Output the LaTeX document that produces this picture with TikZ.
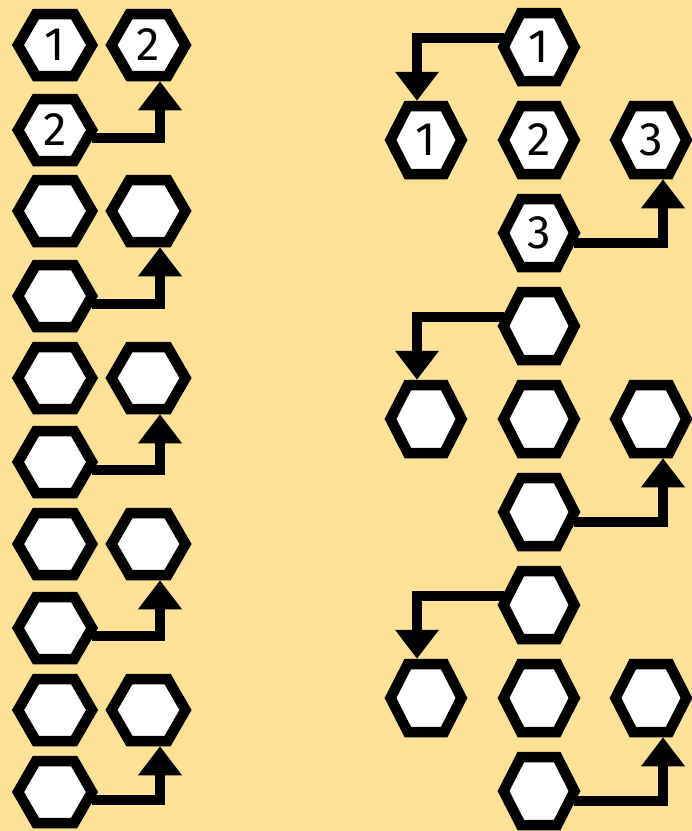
\documentclass[tikz,border=0pt]{standalone}
\usepackage{fontspec}
\setmainfont{Fira Sans}
\usetikzlibrary{shapes.symbols,arrows.meta,calc}
\definecolor{bg}{HTML}{FCE297}
\begin{document}
\begin{tikzpicture}[x=1pt,y=-1pt,
  hexL/.style={shape=signal, signal to=east and west, signal pointer angle=120,
    minimum width=74pt, minimum height=62pt, inner sep=0pt, draw=black, fill=white,
    line width=10.5pt, line join=miter, font=\fontsize{47}{47}\selectfont},
  hexR/.style={hexL, signal pointer angle=126, minimum width=71pt, minimum height=68pt},
  conn/.style={draw=black, line width=9.5pt, line join=miter, -{Triangle[width=42pt,length=29pt]}}]
\fill[bg] (0,0) rectangle (692,831);
\useasboundingbox (0,0) rectangle (692,831);
% left column
\node[hexL] (a1) at (55,45) {1};
\node[hexL] (b1) at (148.5,45) {2};
\node[hexL] (c1) at (55,130) {2};
\node[hexL] (a2) at (55,211) {};
\node[hexL] (b2) at (148.5,211) {};
\node[hexL] (c2) at (55,296) {};
\node[hexL] (a3) at (55,378) {};
\node[hexL] (b3) at (148.5,378) {};
\node[hexL] (c3) at (55,462) {};
\node[hexL] (a4) at (55,544) {};
\node[hexL] (b4) at (148.5,544) {};
\node[hexL] (c4) at (55,628) {};
\node[hexL] (a5) at (55,710) {};
\node[hexL] (b5) at (148.5,710) {};
\node[hexL] (c5) at (55,792) {};
\foreach \i in {1,...,5}{
  \draw[conn] ([xshift=-6pt,yshift=-8pt]c\i.east) -| ([xshift=11.5pt]b\i.south);
}
% right column
\node[hexR] (t1) at (539,47) {1};
\node[hexR] (l1) at (426,140) {1};
\node[hexR] (m1) at (539,140) {2};
\node[hexR] (r1) at (651,140) {3};
\node[hexR] (u1) at (539,233) {3};
\node[hexR] (t2) at (539,326) {};
\node[hexR] (l2) at (426,419) {};
\node[hexR] (m2) at (539,419) {};
\node[hexR] (r2) at (651,419) {};
\node[hexR] (u2) at (539,512) {};
\node[hexR] (t3) at (539,605) {};
\node[hexR] (l3) at (426,698) {};
\node[hexR] (m3) at (539,698) {};
\node[hexR] (r3) at (651,698) {};
\node[hexR] (u3) at (539,791) {};
\foreach \i in {1,2,3}{
  \draw[conn] ([xshift=6pt,yshift=9pt]t\i.west) -| ([xshift=-9pt]l\i.north);
  \draw[conn] ([xshift=-6pt,yshift=-10pt]u\i.east) -| ([xshift=12pt]r\i.south);
}
\end{tikzpicture}
\end{document}
